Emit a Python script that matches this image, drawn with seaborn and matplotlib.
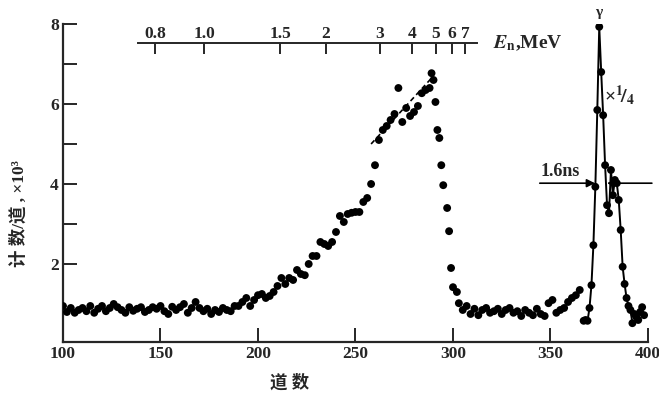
import seaborn as sns
import pandas as pd
import matplotlib.pyplot as plt
from matplotlib.ticker import FixedLocator

# channel numbers (every 2nd channel on the flat parts, every channel on the edges)
channel = (list(range(100, 288, 2))
           + [288, 289, 290, 291, 292, 293, 294, 295, 297, 298, 299, 300, 302, 303]
           + list(range(305, 368, 2))
           + list(range(368, 399)))

# counts per channel, x10^3
counts = [
    # 100 - 198
    0.95, 0.80, 0.90, 0.78, 0.85, 0.90, 0.82, 0.95, 0.78, 0.88,
    0.95, 0.82, 0.90, 1.00, 0.92, 0.85, 0.78, 0.92, 0.83, 0.88,
    0.92, 0.80, 0.85, 0.92, 0.88, 0.95, 0.82, 0.75, 0.93, 0.85,
    0.92, 1.00, 0.78, 0.90, 1.05, 0.90, 0.82, 0.88, 0.75, 0.85,
    0.80, 0.90, 0.85, 0.82, 0.95, 0.95, 1.05, 1.15, 0.95, 1.10,
    # 200 - 286
    1.22, 1.25, 1.15, 1.20, 1.30, 1.45, 1.65, 1.50, 1.65, 1.60,
    1.85, 1.75, 1.72, 2.00, 2.20, 2.20, 2.55, 2.50, 2.45, 2.55,
    2.80, 3.20, 3.05, 3.25, 3.28, 3.30, 3.30, 3.55, 3.65, 4.00,
    4.47, 5.10, 5.35, 5.45, 5.60, 5.75, 6.40, 5.55, 5.90, 5.70,
    5.80, 5.95, 6.27, 6.35,
    # 288 - 303
    6.40, 6.77, 6.60, 6.05, 5.35, 5.15, 4.47, 3.97, 3.40, 2.82,
    1.90, 1.42, 1.30, 1.02,
    # 305 - 367
    0.85, 0.95, 0.75, 0.88, 0.72, 0.85, 0.90, 0.78, 0.82, 0.88,
    0.75, 0.85, 0.90, 0.78, 0.82, 0.70, 0.85, 0.78, 0.72, 0.88,
    0.75, 0.70, 1.02, 1.10, 0.78, 0.85, 0.90, 1.05, 1.15, 1.22,
    1.35, 0.58,
    # 368 - 398 (gamma peak, x1/4)
    0.60, 0.58, 0.90, 1.47, 2.47, 3.93, 5.85, 7.93, 6.80, 5.72,
    4.47, 3.47, 3.27, 4.35, 3.72, 4.10, 4.02, 3.60, 2.85, 1.93,
    1.50, 1.15, 0.95, 0.85, 0.52, 0.75, 0.68, 0.60, 0.80, 0.92,
    0.72,
]

# dashed guide over the neutron peak
guide_channel = [258, 290]
guide_counts = [5.0, 6.7]

# neutron energy scale on top (MeV) and the channel each one falls on
energy_labels = ["0.8", "1.0", "1.5", "2", "3", "4", "5", "6", "7"]
energy_channel = [147.2, 172.3, 211.3, 234.9, 262.6, 279.0, 291.3, 299.5, 306.2]

x_ticks = [100, 150, 200, 250, 300, 350, 400]
y_ticks = [2, 3, 4, 5, 6, 7, 8]
y_labels = ["2", "", "4", "", "6", "", "8"]

df = pd.DataFrame({"channel": channel, "counts": counts})
peak = df[(df.channel >= 369) & (df.channel <= 392)]
guide = pd.DataFrame({"channel": guide_channel, "counts": guide_counts})

sns.set_style("ticks")
plt.rcParams["font.family"] = ["Liberation Serif", "Noto Sans CJK SC"]
plt.rcParams["font.weight"] = "bold"
plt.rcParams["mathtext.fontset"] = "stix"

fig = plt.figure(figsize=(6.59, 3.96), dpi=100)
ax = fig.add_axes([0.0956, 0.1364, 0.8877, 0.803])

sns.lineplot(data=peak, x="channel", y="counts", color="black", lw=1.4,
             sort=False, ax=ax)
sns.lineplot(data=guide, x="channel", y="counts", color="black", lw=1.2,
             ls=(0, (3, 2)), ax=ax, zorder=4)
sns.scatterplot(data=df, x="channel", y="counts", color="black", s=32,
                edgecolor="none", ax=ax, zorder=3)

ax.set_xlim(100, 400)
ax.set_ylim(0.05, 8)
sns.despine(ax=ax)
for s in ["left", "bottom"]:
    ax.spines[s].set_linewidth(1.6)

ax.xaxis.set_major_locator(FixedLocator(x_ticks))
ax.set_xticklabels([str(t) for t in x_ticks])
ax.yaxis.set_major_locator(FixedLocator(y_ticks))
ax.set_yticklabels(y_labels)
ax.tick_params(direction="in", length=10, width=1.4, labelsize=12.5, pad=3)

ax.set_xlabel("道 数", fontsize=12.5, fontweight="bold", va="center")
ax.xaxis.set_label_coords(0.388, -0.128)
ax.set_ylabel("计 数/道 , ×10³", fontsize=12.5, fontweight="bold")
ax.yaxis.set_label_coords(-0.06, 0.405)

# energy axis
sec = ax.secondary_xaxis(0.94)
sec.set_xticks(energy_channel, labels=energy_labels)
sec.tick_params(direction="in", length=8, width=1.4, labelsize=12.5, pad=1)
sec.spines["top"].set_bounds(138.5, 312.3)
sec.spines["top"].set_linewidth(1.4)
ax.text(320.5, 7.52, "$E_{\\mathbf{n}}$,MeV", fontsize=14, va="center", ha="left")

# annotations of the gamma peak
ax.text(374.6, 8.12, "γ", fontsize=11, ha="center", va="bottom", clip_on=False)
ax.text(377.5, 6.2, "×$^{1}\\!/_{4}$", fontsize=14, ha="left", va="center")
ax.text(345.0, 4.1, "1.6ns", fontsize=13, ha="left", va="bottom")
ax.annotate("", xy=(372.8, 4.02), xytext=(344.5, 4.02),
            arrowprops=dict(arrowstyle="-|>", color="black", lw=1.2,
                            mutation_scale=12, shrinkA=0, shrinkB=0))
ax.annotate("", xy=(379.0, 4.02), xytext=(402.0, 4.02), annotation_clip=False,
            arrowprops=dict(arrowstyle="-|>", color="black", lw=1.2,
                            mutation_scale=10, shrinkA=0, shrinkB=0))

fig.savefig("out.png", dpi=100)
